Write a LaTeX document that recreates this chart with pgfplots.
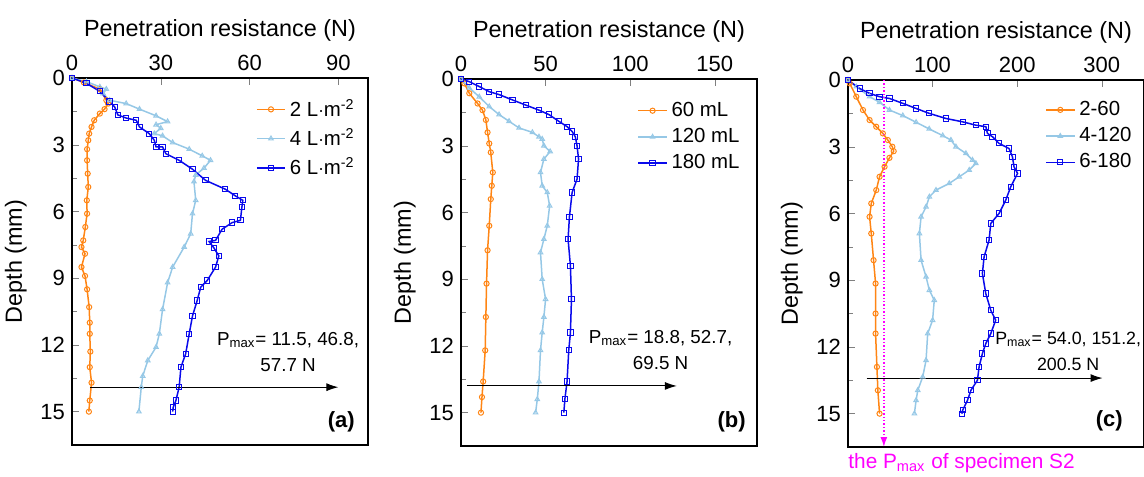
\documentclass[border=0pt]{standalone}
\usepackage{fontspec}
\setmainfont{Liberation Sans}
\usepackage{pgfplots}
\pgfplotsset{compat=1.18}
\usetikzlibrary{arrows.meta}
\definecolor{cOr}{RGB}{255,133,20}
\definecolor{cLb}{RGB}{150,200,230}
\definecolor{cBl}{RGB}{10,10,235}
\definecolor{cMg}{RGB}{255,0,255}
\pgfplotsset{panel/.style={
  scale only axis, width=148pt, height=183.5pt,
  y dir=reverse, ymin=0, ymax=16.5, ytick={0,3,...,15}, minor y tick num=1,
  xtick pos=right, xticklabel pos=right, ytick pos=left,
  tick align=inside, major tick length=3.5pt, minor tick length=2.5pt,
  xlabel={Penetration resistance (N)}, ylabel={Depth (mm)},
  tick label style={font=\fontsize{11}{13}\selectfont},
  label style={font=\fontsize{11.7}{14}\selectfont},
  /pgf/number format/assume math mode=true,
  axis line style={line width=0.9pt},
  clip=false,
  legend cell align=left,
  legend style={draw=none, fill=none, font=\fontsize{10.2}{12.5}\selectfont, anchor=north west, row sep=0.5pt},
  legend image code/.code={\draw[mark repeat=2,mark phase=2] plot coordinates {(0cm,0cm) (0.25cm,0cm) (0.5cm,0cm)};},
  every axis plot/.append style={line width=0.75pt, mark size=1.3pt, mark options={solid, fill=white, line width=0.5pt}},
}}
\begin{document}
\begin{tikzpicture}
\useasboundingbox (0,0) rectangle (572pt,-238pt);
% ---------- (a)
\begin{axis}[panel, at={(36pt,-39pt)}, anchor=north west, xmin=0, xmax=100, xtick={0,30,60,90},
  legend style={at={(0.6,0.965)}}]
\addplot[cOr, mark=o] coordinates {(0,0) (4,0.2) (9.4,0.5) (11.6,1.0) (12.2,1.15) (11,1.4) (9.4,1.6) (7.5,1.9) (6.6,2.2) (5.8,2.5) (5.5,2.8) (5.1,3.2) (5.1,3.7) (5.3,4.3) (5.5,4.9) (5.0,5.5) (5.1,6.1) (4.5,6.7) (3.8,7.3) (3.2,7.6) (4.4,7.9) (3.2,8.5) (4.4,8.9) (5.1,9.5) (5.8,10.3) (6.0,11.0) (6.0,11.5) (6.2,12.3) (6.0,13.0) (6.6,13.7) (6.0,14.5) (5.7,15)};
\addlegendentry{2 L$\cdot$m\textsuperscript{-2}}
\addplot[cLb, mark=triangle] coordinates {(0,0) (4.9,0.16) (9.4,0.4) (11.6,0.5) (10.5,0.7) (12.7,1.0) (18.3,1.15) (22.8,1.4) (28.4,1.7) (32.3,1.96) (28.4,2.1) (30,2.26) (27.8,2.5) (30.6,2.6) (34,2.9) (39.6,3.2) (44,3.5) (46.8,3.7) (44.6,4.05) (41.8,4.36) (41.2,4.66) (41.8,5.5) (40.7,6.1) (40.1,7.0) (37.9,7.6) (34,8.5) (32.3,9.2) (30.6,10.4) (29.5,11.5) (28.4,12.1) (25.6,12.7) (23.9,13.4) (23.4,13.9) (22.6,15)};
\addlegendentry{4 L$\cdot$m\textsuperscript{-2}}
\addplot[cBl, mark=square] coordinates {(0,0) (4.9,0.24) (9.4,0.6) (12.7,1.06) (14.4,1.3) (15.5,1.66) (18.3,1.8) (21.7,1.9) (22.8,2.2) (26.1,2.5) (27.8,2.8) (28.4,3.1) (30.6,3.1) (31.7,3.4) (36.2,3.7) (40.7,4.1) (45.1,4.6) (51.8,5.0) (55.2,5.3) (57.7,5.5) (57.4,5.8) (56.9,6.4) (54.1,6.5) (50.7,6.8) (48.5,7.3) (46.3,7.35) (48,7.65) (49.6,8.0) (48.5,8.5) (45.7,9.1) (43.5,9.4) (42.3,10.0) (40.7,10.7) (39.6,11.5) (38.4,12.4) (36.8,13.0) (36.2,13.9) (35.1,14.5) (34.2,14.8) (34,15)};
\addlegendentry{6 L$\cdot$m\textsuperscript{-2}}
\draw[-{Latex[length=6pt,width=4pt]}, line width=0.5pt] (axis cs:6,13.9) -- (axis cs:90,13.9);
\node[align=center, font=\fontsize{9.4}{13}\selectfont] at (axis cs:73,12.3) {P\textsubscript{max}= 11.5, 46.8,\\ 57.7 N};
\node[font=\fontsize{11}{13}\selectfont\bfseries] at (axis cs:91,15.45) {(a)};
\end{axis}
% ---------- (b)
\begin{axis}[panel, at={(230.5pt,-39.5pt)}, anchor=north west, xmin=0, xmax=175, xtick={0,50,100,150},
  legend style={at={(0.575,0.96)}}]
\addplot[cOr, mark=o] coordinates {(0,0) (2,0.2) (4.9,0.64) (9.8,1.1) (12.7,1.4) (14.7,1.84) (15.7,2.4) (16.7,2.9) (17.6,3.3) (18.8,4.2) (18.2,4.8) (17.6,5.4) (16.7,6.6) (15.7,7.7) (15.1,9.2) (14.7,10.7) (14.3,12.2) (13.1,13.6) (12.4,14.3) (11.8,15)};
\addlegendentry{60 mL}
\addplot[cLb, mark=triangle] coordinates {(0,0) (4.9,0.4) (10.8,0.8) (16.7,1.24) (22.5,1.6) (28.4,1.9) (34.3,2.2) (42.2,2.4) (46.1,2.6) (48,2.7) (49,3.0) (52.7,3.26) (49,3.6) (47,4.2) (48,4.8) (51,5.1) (52.4,5.7) (51,6.6) (49,7.2) (47,7.8) (48,9.0) (50,9.9) (49,10.7) (48,11.4) (47,12.2) (46.1,13.6) (45.1,14.4) (44.1,15)};
\addlegendentry{120 mL}
\addplot[cBl, mark=square] coordinates {(0,0) (4.9,0.12) (10.8,0.34) (16.7,0.57) (22.5,0.7) (30.4,0.94) (38.2,1.17) (46.1,1.4) (52,1.6) (57.8,1.9) (62.7,2.14) (65.7,2.36) (67.6,2.6) (68.6,3.0) (69.5,3.6) (68.6,4.5) (65.7,5.1) (64.1,6.2) (63.3,7.2) (64.7,8.4) (65.3,9.9) (64.7,11.4) (63.7,12.2) (62.7,13.6) (61.4,14.4) (60.8,15)};
\addlegendentry{180 mL}
\draw[-{Latex[length=6pt,width=4pt]}, line width=0.5pt] (axis cs:3.5,13.8) -- (axis cs:127.6,13.8);
\node[align=center, font=\fontsize{9.4}{13}\selectfont] at (axis cs:118,12.2) {P\textsubscript{max}= 18.8, 52.7,\\ 69.5 N};
\node[font=\fontsize{11}{13}\selectfont\bfseries] at (axis cs:160,15.4) {(b)};
\end{axis}
% ---------- (c)
\begin{axis}[panel, at={(424pt,-40pt)}, anchor=north west, xmin=0, xmax=350, xtick={0,100,200,300},
  legend style={at={(0.645,0.965)}}]
\addplot[cOr, mark=o] coordinates {(0,0) (2,0.15) (9.8,0.75) (17.7,1.35) (25.5,1.8) (33.4,2.1) (41.2,2.4) (47.1,2.7) (52.4,3.0) (54,3.2) (49,3.5) (43.2,3.9) (37.3,4.35) (33.4,4.95) (27.5,5.55) (25.5,6.15) (27.5,6.9) (30.2,8.1) (32.6,9.15) (32.6,10.5) (32.6,11.4) (34.2,12.9) (35.3,13.95) (37.3,15)};
\addlegendentry{2-60}
\addplot[cLb, mark=triangle] coordinates {(0,0) (9.8,0.3) (25.5,0.75) (37.3,1.0) (49,1.35) (64.8,1.6) (80.5,1.9) (96,2.2) (112,2.5) (121.7,2.7) (127.6,3.0) (139.4,3.3) (147.2,3.6) (151.2,3.75) (143.3,4.05) (131.5,4.35) (119.7,4.65) (104,4.95) (96.2,5.25) (92.3,5.7) (86.4,6.15) (84.4,6.9) (86.4,8.1) (92.3,8.85) (96.2,9.45) (102,9.9) (100,10.8) (94.2,11.4) (92.3,12.6) (88.3,13.35) (82.5,13.95) (80.5,14.4) (78.5,15)};
\addlegendentry{4-120}
\addplot[cBl, mark=square] coordinates {(0,0) (13.7,0.38) (25.5,0.6) (37.3,0.75) (49,0.83) (64.8,1.05) (80.5,1.28) (96,1.5) (115.8,1.73) (135.5,1.88) (151,2.03) (163,2.1) (164.9,2.4) (170.8,2.55) (178.6,2.85) (190.4,3.08) (194.4,3.45) (196.3,3.9) (200.5,4.2) (192.4,4.8) (186.5,5.4) (178.6,6.0) (168.8,6.45) (166.8,7.2) (160.9,7.95) (158.9,8.7) (162.9,9.6) (168.8,10.35) (174.6,10.8) (168.8,11.4) (162.9,11.85) (158.9,12.3) (155,12.9) (153,13.5) (145.3,13.95) (141.3,14.4) (135.5,14.85) (134.7,15)};
\addlegendentry{6-180}
\draw[-{Latex[length=6pt,width=4pt]}, line width=0.5pt] (axis cs:22,13.4) -- (axis cs:301,13.4);
\draw[cMg, line width=0.7pt, dash pattern=on 0.7pt off 1pt, -{Latex[length=5pt,width=3.5pt]}] (axis cs:42.4,0) -- (axis cs:42.4,16.5);
\node[align=center, anchor=east, inner sep=0pt, font=\fontsize{8.9}{13}\selectfont] at (axis cs:347,12.2) {P\textsubscript{max}= 54.0, 151.2,\\ 200.5 N};
\node[font=\fontsize{11}{13}\selectfont\bfseries] at (axis cs:309,15.3) {(c)};
\node[anchor=north west, inner sep=0pt, text=cMg, font=\fontsize{10.4}{12}\selectfont] at ([yshift=-3pt]axis description cs:0,0) {the P\textsubscript{max} of specimen S2};
\end{axis}
\end{tikzpicture}
\end{document}
